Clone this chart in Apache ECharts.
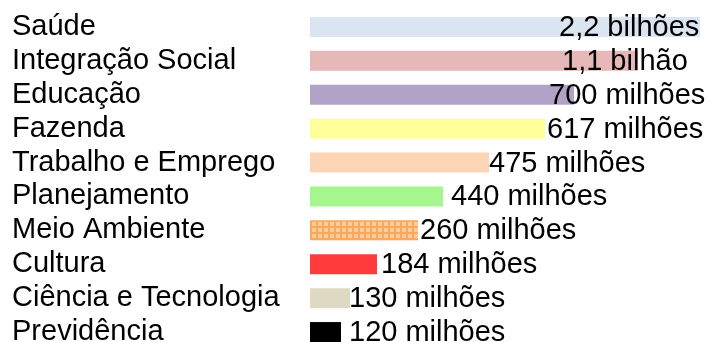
<!DOCTYPE html>
<html>
<head>
<meta charset="utf-8">
<script src="https://cdn.jsdelivr.net/npm/echarts@6/dist/echarts.min.js"></script>
<style>html,body{margin:0;padding:0;background:#fff}#c{width:714px;height:342px}</style>
</head>
<body>
<div id="c"></div>
<script>
// ---- data ----
const categories = ['Saúde','Integração Social','Educação','Fazenda','Trabalho e Emprego','Planejamento','Meio Ambiente','Cultura','Ciência e Tecnologia','Previdência'];
// drawn bar lengths as they appear in the picture (arbitrary units)
const barLengths = [390, 328, 264, 235, 179, 133, 108, 67, 40, 31];
const valueLabels = ['2,2 bilhões','1,1 bilhão','700 milhões','617 milhões','475 milhões','440 milhões','260 milhões','184 milhões','130 milhões','120 milhões'];

// ---- styles ----
const barColors = ['#DBE5F1','#E6B9B8','#B3A2C7','#FFFF99','#FCD5B5','#A6F68F','#F9A85C','#FF3B3B','#DDD9C3','#000000'];
const labelShift = [-141, -76, -25, 2, 0, 8, 2, 4, -1, 8];
const FONT = 'Liberation Sans, Arial, sans-serif';

const seriesData = barLengths.map((v, i) => {
  const item = {
    value: v,
    itemStyle: { color: barColors[i] },
    label: { offset: [labelShift[i], 1] }
  };
  if (categories[i] === 'Meio Ambiente') {
    item.itemStyle.decal = {
      symbol: 'rect',
      symbolSize: 1,
      color: 'rgba(253,214,172,0.8)',
      dashArrayX: [4, 2],
      dashArrayY: [4, 2],
      rotation: 0
    };
  }
  return item;
});

const chart = echarts.init(document.getElementById('c'), null, { renderer: 'canvas' });
chart.setOption({
  animation: false,
  backgroundColor: '#ffffff',
  grid: { left: 310, top: 10, width: 400, height: 339, containLabel: false, outerBoundsMode: 'none' },
  xAxis: {
    type: 'value', min: 0, max: 400, show: false
  },
  yAxis: {
    type: 'category',
    data: categories,
    inverse: true,
    axisLine: { show: false },
    axisTick: { show: false },
    splitLine: { show: false },
    axisLabel: {
      interval: 0,
      align: 'left',
      margin: 298,
      color: '#000',
      fontFamily: FONT,
      fontSize: 29,
      padding: [2, 0, 0, 0]
    }
  },
  series: [{
    type: 'bar',
    data: seriesData,
    barWidth: 20,
    label: {
      show: true,
      position: 'right',
      distance: 0,
      color: '#000',
      fontFamily: FONT,
      fontSize: 29,
      formatter: p => valueLabels[p.dataIndex]
    }
  }]
});
</script>
</body>
</html>
